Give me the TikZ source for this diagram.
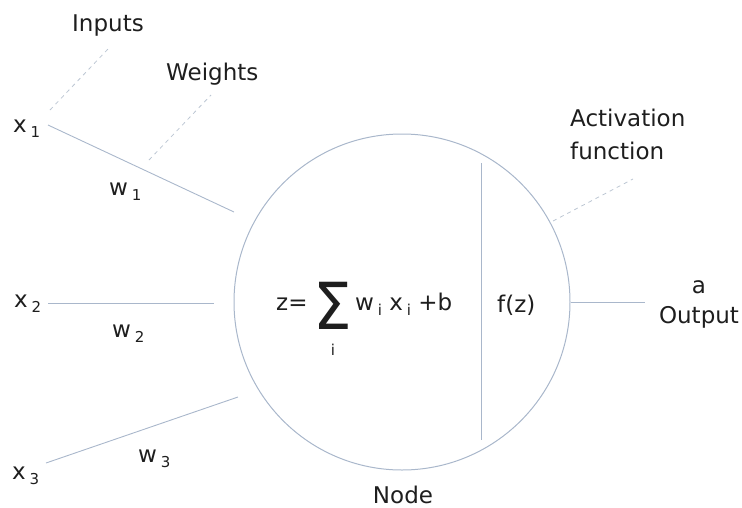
\documentclass[tikz,border=0pt]{standalone}
\usepackage{fontspec}
\setmainfont{DejaVu Sans}
\usetikzlibrary{positioning}
\definecolor{wireblue}{HTML}{A9B7CB}
\definecolor{hintgrey}{HTML}{BCC6D3}
\definecolor{inkgrey}{HTML}{1E1E1E}
\newcommand{\lowidx}[1]{\,\raisebox{-0.4ex}{\fontsize{15}{15}\selectfont #1}}

\begin{document}
\begin{tikzpicture}[x=1pt,y=-1pt,font=\fontsize{23}{27}\selectfont,
  wire/.style={draw=wireblue,line width=0.9pt},
  hint/.style={draw=hintgrey,line width=0.8pt,dash pattern=on 4pt off 4pt},
  lbl/.style={inner sep=0pt,anchor=base west,text=inkgrey}]
  \useasboundingbox (0,0) rectangle (742,507);
  % the neuron
  \node[circle,draw=wireblue,line width=1pt,minimum size=336pt,inner sep=0pt] (neuron) at (402,302) {};
  \coordinate (divtop) at (481,163);
  \coordinate (divbot) at (481,440);
  \draw[wire] (divtop) -- (divbot);
  % inputs and weights
  \node[lbl] (x1) at (13,132) {x\lowidx{1}};
  \node[lbl] (x2) at (14,307) {x\lowidx{2}};
  \node[lbl] (x3) at (12,479) {x\lowidx{3}};
  \node[lbl] (w1) at (109,195) {w\lowidx{1}};
  \node[lbl] (w2) at (112,337) {w\lowidx{2}};
  \node[lbl] (w3) at (138,462) {w\lowidx{3}};
  \coordinate (in1) at (48,125);  \coordinate (end1) at (234,212);
  \coordinate (in2) at (48,303);  \coordinate (end2) at (214,303);
  \coordinate (in3) at (46,463);  \coordinate (end3) at (238,397);
  \draw[wire] (in1) -- (end1);
  \draw[wire] (in2) -- (end2);
  \draw[wire] (in3) -- (end3);
  % formula inside the node
  \node[lbl] (zeq) at (276,310) {z=};
  \node[inner sep=0pt,anchor=base,text=inkgrey] (sigma) at (333,329) {\scalebox{1.3}[1.38]{\fontsize{47}{47}\selectfont Σ}};
  \node[inner sep=0pt,anchor=base,text=inkgrey] (sumidx) at (333,355) {\fontsize{15}{15}\selectfont i};
  \node[lbl] (sumterm) at (355,310) {w\lowidx{i}\ x\lowidx{i}\ +b};
  \node[lbl] (fz) at (497,312) {f(z)};
  % output
  \coordinate (outend) at (645,302);
  \draw[wire] (neuron.east) -- (outend);
  \node[inner sep=0pt,anchor=base,text=inkgrey] (aout) at (699,293) {a};
  \node[inner sep=0pt,anchor=base,text=inkgrey] (output) at (699,323) {Output};
  \node[inner sep=0pt,anchor=base,text=inkgrey] (nodelbl) at (403,503) {Node};
  % annotations
  \node[lbl] (inputs) at (72,31) {Inputs};
  \node[lbl] (weights) at (166,80) {Weights};
  \node[lbl] (act) at (570,126) {Activation};
  \node[lbl] (actfn) at (570,159) {function};
  \coordinate (hin1) at (50,110);   \coordinate (hin2) at (108,49);
  \coordinate (hw1) at (149,160);   \coordinate (hw2) at (211,95);
  \coordinate (hact1) at (553,221); \coordinate (hact2) at (633,179);
  \draw[hint] (hin1) -- (hin2);
  \draw[hint] (hw1) -- (hw2);
  \draw[hint] (hact1) -- (hact2);
\end{tikzpicture}
\end{document}
